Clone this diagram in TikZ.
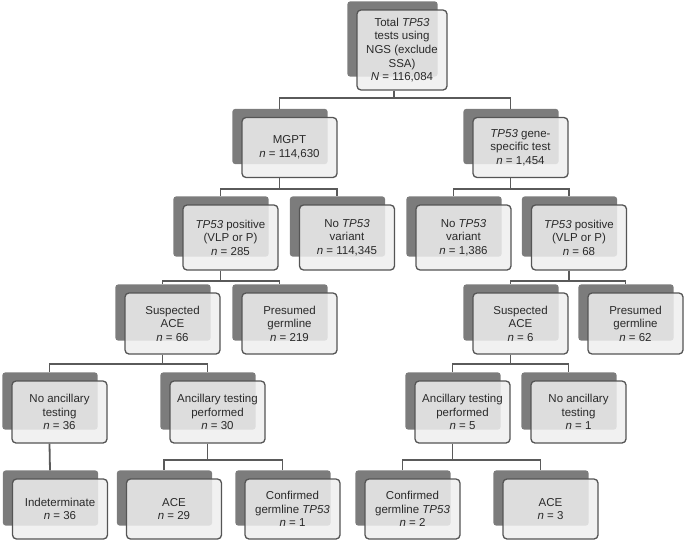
\documentclass[tikz,border=0pt]{standalone}
\usepackage{fontspec}
\setmainfont{Liberation Sans}
\usepackage{xcolor}
\usepackage{tikz}
\usetikzlibrary{backgrounds}

\definecolor{backgray}{HTML}{7C7C7C}
\definecolor{boxfill}{HTML}{EEEEEE}
\definecolor{boxline}{HTML}{555555}
\definecolor{linegray}{HTML}{5A5A5A}
\definecolor{textgray}{HTML}{2A2A2A}

\begin{document}
\begin{tikzpicture}[
  x=1pt, y=-1pt,
  box/.style={draw=boxline, line width=1.3pt, rounded corners=4pt, fill=boxfill,
    fill opacity=0.85, text opacity=1, text=textgray, minimum width=95pt,
    align=center, inner sep=2pt, font=\fontsize{11.5}{13.6}\selectfont},
  backbox/.style={fill=backgray, rounded corners=3pt},
  link/.style={draw=linegray, line width=1.8pt}
]
\useasboundingbox (0,0) rectangle (685,541);

% level 0
\node[box, minimum width=90pt, minimum height=80pt] (root) at (402,50)
  {Total \textit{TP53}\\tests using\\NGS (exclude\\SSA)\\\textit{N} = 116,084};

% level 1
\node[box, minimum height=60pt] (mgpt) at (289.5,147.5) {MGPT\\\textit{n} = 114,630};
\node[box, minimum height=60pt] (gene) at (520.5,147.5)
  {\textit{TP53} gene-\\specific test\\\textit{n} = 1,454};

% level 2
\node[box, minimum height=65pt] (posL) at (230.5,237.5)
  {\textit{TP53} positive\\(VLP or P)\\\textit{n} = 285};
\node[box, minimum height=65pt] (noL) at (347,237.5)
  {No \textit{TP53}\\variant\\\textit{n} = 114,345};
\node[box, minimum height=65pt] (noR) at (463.5,237.5)
  {No \textit{TP53}\\variant\\\textit{n} = 1,386};
\node[box, minimum height=65pt] (posR) at (579,237.5)
  {\textit{TP53} positive\\(VLP or P)\\\textit{n} = 68};

% level 3
\node[box, minimum height=61pt] (susL) at (172.5,323.5) {Suspected\\ACE\\\textit{n} = 66};
\node[box, minimum height=61pt] (preL) at (289.5,323.5) {Presumed\\germline\\\textit{n} = 219};
\node[box, minimum height=61pt] (susR) at (520.5,323.5) {Suspected\\ACE\\\textit{n} = 6};
\node[box, minimum height=61pt] (preR) at (635.5,323.5) {Presumed\\germline\\\textit{n} = 62};

% level 4
\node[box, minimum height=62pt] (noaL) at (59.5,412) {No ancillary\\testing\\\textit{n} = 36};
\node[box, minimum height=62pt] (ancL) at (217.5,412)
  {Ancillary testing\\performed\\\textit{n} = 30};
\node[box, minimum height=62pt] (ancR) at (462.5,412)
  {Ancillary testing\\performed\\\textit{n} = 5};
\node[box, minimum height=62pt] (noaR) at (578.5,412) {No ancillary\\testing\\\textit{n} = 1};

% level 5
\node[box, minimum height=60pt] (ind) at (60,509) {Indeterminate\\\textit{n} = 36};
\node[box, minimum height=60pt] (aceL) at (174,509) {ACE\\\textit{n} = 29};
\node[box, minimum height=60pt] (cgL) at (292.5,509)
  {Confirmed\\germline \textit{TP53}\\\textit{n} = 1};
\node[box, minimum height=60pt] (cgR) at (412.5,509)
  {Confirmed\\germline \textit{TP53}\\\textit{n} = 2};
\node[box, minimum height=60pt] (aceR) at (550.5,509) {ACE\\\textit{n} = 3};

% dark copies behind the boxes
\begin{scope}[on background layer]
\foreach \n in {root,mgpt,gene,posL,noL,noR,posR,susL,preL,susR,preR,
                noaL,ancL,ancR,noaR,ind,aceL,cgL,cgR,aceR}
  \fill[backbox] ([xshift=-9pt,yshift=8pt]\n.north west)
    rectangle ([xshift=-10pt,yshift=14pt]\n.south east);
\end{scope}

% connectors
\draw[link] ([xshift=-8pt]root.south) -- ++(0,7) -| ([xshift=-10pt,yshift=8pt]mgpt.north);
\draw[link] ([xshift=-8pt]root.south) -- ++(0,7) -| ([xshift=-10pt,yshift=8pt]gene.north);
\draw[link] ([xshift=-10pt]mgpt.south) -- ++(0,11) -| ([xshift=-10pt,yshift=8pt]posL.north);
\draw[link] ([xshift=-10pt]mgpt.south) -- ++(0,11) -| ([xshift=-10pt,yshift=8pt]noL.north);
\draw[link] ([xshift=-10pt]gene.south) -- ++(0,11) -| ([xshift=-10pt,yshift=8pt]noR.north);
\draw[link] ([xshift=-10pt]gene.south) -- ++(0,11) -| ([xshift=-10pt,yshift=8pt]posR.north);
\draw[link] ([xshift=-10pt]posL.south) -- ++(0,10) -| ([xshift=-10pt,yshift=8pt]susL.north);
\draw[link] ([xshift=-10pt]posL.south) -- ++(0,10) -| ([xshift=-10pt,yshift=8pt]preL.north);
\draw[link] ([xshift=-10pt]posR.south) -- ++(0,10) -| ([xshift=-10pt,yshift=8pt]susR.north);
\draw[link] ([xshift=-10pt]posR.south) -- ++(0,10) -| ([xshift=-10pt,yshift=8pt]preR.north);
\draw[link] ([xshift=-10pt]susL.south) -- ++(0,9) -| ([xshift=-10pt,yshift=8pt]noaL.north);
\draw[link] ([xshift=-10pt]susL.south) -- ++(0,9) -| ([xshift=-10pt,yshift=8pt]ancL.north);
\draw[link] ([xshift=-10pt]susR.south) -- ++(0,9) -| ([xshift=-10pt,yshift=8pt]ancR.north);
\draw[link] ([xshift=-10pt]susR.south) -- ++(0,9) -| ([xshift=-10pt,yshift=8pt]noaR.north);
\draw[link] ([xshift=-10pt]noaL.south) -- ([xshift=-10pt,yshift=8pt]ind.north);
\draw[link] ([xshift=-10pt]ancL.south) -- ++(0,16) -| ([xshift=-10pt,yshift=8pt]aceL.north);
\draw[link] ([xshift=-10pt]ancL.south) -- ++(0,16) -| ([xshift=-10pt,yshift=8pt]cgL.north);
\draw[link] ([xshift=-10pt]ancR.south) -- ++(0,16) -| ([xshift=-10pt,yshift=8pt]cgR.north);
\draw[link] ([xshift=-10pt]ancR.south) -- ++(0,16) -| ([xshift=-10pt,yshift=8pt]aceR.north);
\end{tikzpicture}
\end{document}
